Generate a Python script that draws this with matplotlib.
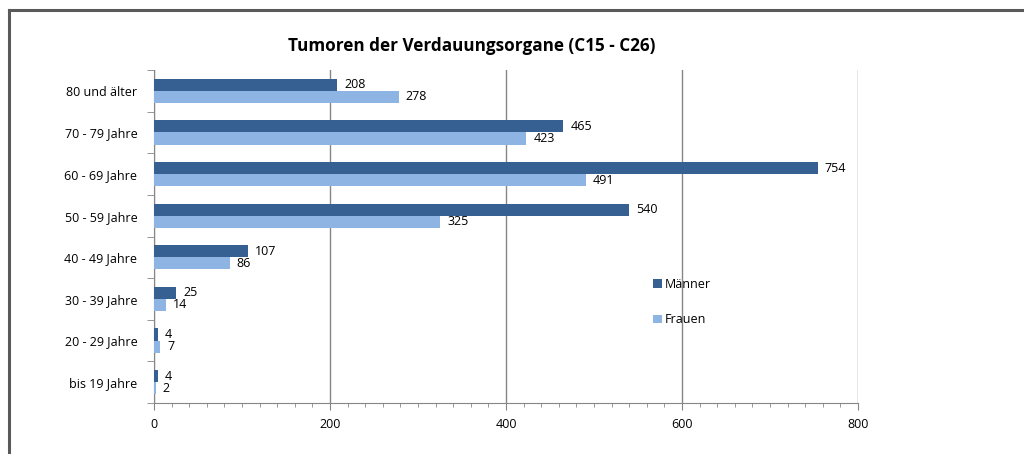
import matplotlib
matplotlib.use("Agg")
import matplotlib.pyplot as plt
from matplotlib.lines import Line2D
from matplotlib.ticker import MultipleLocator
import numpy as np

plt.rcParams['font.family'] = ['Open Sans', 'DejaVu Sans']

groups = ["bis 19 Jahre", "20 - 29 Jahre", "30 - 39 Jahre", "40 - 49 Jahre",
          "50 - 59 Jahre", "60 - 69 Jahre", "70 - 79 Jahre", "80 und älter"]
maenner = [4, 4, 25, 107, 540, 754, 465, 208]
frauen = [2, 7, 14, 86, 325, 491, 423, 278]

c_m = "#366092"
c_f = "#8eb4e3"
grid_c = "#868686"

fig = plt.figure(figsize=(10.24, 4.54), dpi=100)
ax = fig.add_axes([154/1024, 1-403/454, 704/1024, 333/454])

y = np.arange(len(groups))
h = 0.29
ax.barh(y + h/2, maenner, height=h, color=c_m, label="Männer", zorder=3)
ax.barh(y - h/2, frauen, height=h, color=c_f, label="Frauen", zorder=3)

for i in range(len(groups)):
    ax.text(maenner[i] + 8, y[i] + h/2, str(maenner[i]), va="center", ha="left", fontsize=9)
    ax.text(frauen[i] + 8, y[i] - h/2, str(frauen[i]), va="center", ha="left", fontsize=9)

ax.set_xlim(0, 800)
ax.set_ylim(-0.5, len(groups) - 0.5)
ax.xaxis.set_major_locator(MultipleLocator(200))
ax.xaxis.set_minor_locator(MultipleLocator(20))
ax.grid(axis="x", which="major", color=grid_c, linewidth=1.0, zorder=0)

ax.set_yticks(y)
ax.set_yticklabels(groups, fontsize=9)
ax.set_yticks(np.arange(-0.5, len(groups)), minor=True)
ax.tick_params(axis="y", which="major", length=0, pad=12)
ax.tick_params(axis="y", which="minor", length=5, color=grid_c, direction="out")
ax.tick_params(axis="x", which="major", length=5, color=grid_c, labelsize=9, pad=6)
ax.tick_params(axis="x", which="minor", length=3, color=grid_c)

for s in ["top", "right"]:
    ax.spines[s].set_visible(False)
for s in ["left", "bottom"]:
    ax.spines[s].set_color(grid_c)

fig.text(472/1024, 1-46/454, "Tumoren der Verdauungsorgane (C15 - C26)",
         ha="center", va="center", fontsize=12.3, fontweight="bold")

handles, labels = ax.get_legend_handles_labels()
ax.legend(handles, labels, loc="center left", bbox_to_anchor=(642/1024, 1-302/454),
          bbox_transform=fig.transFigure, frameon=False, fontsize=9,
          handlelength=0.7, handleheight=0.7, handletextpad=0.25, labelspacing=1.8)

# outer frame (left and top only)
fig.add_artist(Line2D([8.5/1024, 8.5/1024], [0, 1-10/454], transform=fig.transFigure,
                      color="#5a5a5a", linewidth=2.2))
fig.add_artist(Line2D([8.5/1024, 1], [1-10/454, 1-10/454], transform=fig.transFigure,
                      color="#5a5a5a", linewidth=2.2))

fig.savefig("out.png", dpi=100)
